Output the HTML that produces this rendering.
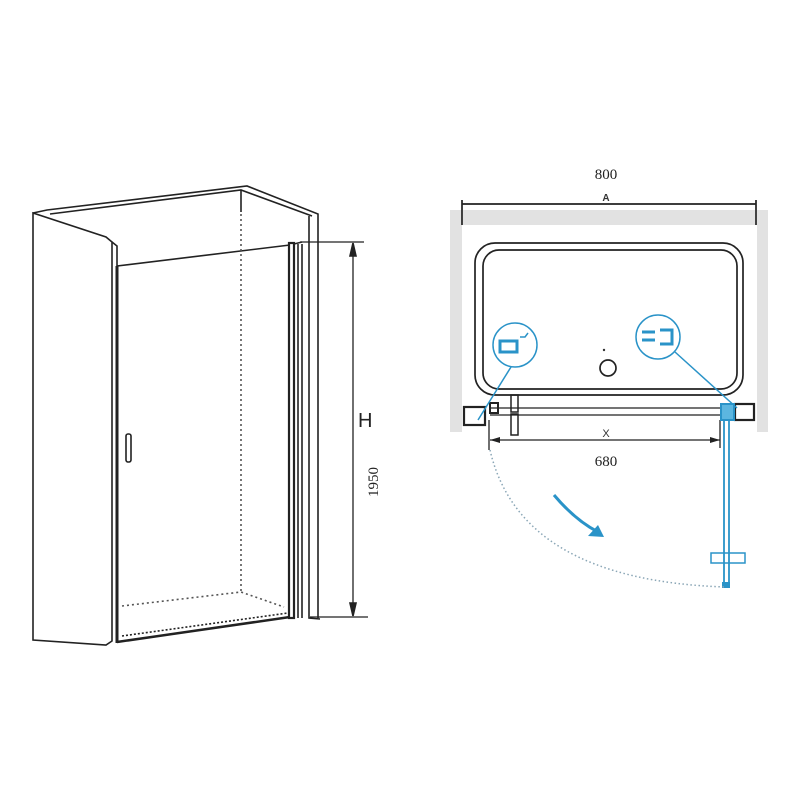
<!DOCTYPE html>
<html><head><style>html,body{margin:0;padding:0;background:#fff;}svg{display:block}</style></head>
<body>
<svg width="800" height="800" viewBox="0 0 800 800" xmlns="http://www.w3.org/2000/svg" font-family="Liberation Serif, serif">
<rect width="800" height="800" fill="#fff"/>
<g fill="none" stroke="#222" stroke-width="1.6">
  <!-- left wall -->
  <path d="M33,213 L33,640 L106,645 L112,641 L112,242 L106,237 Z"/>
  <path d="M112,242 L117,246 L117,266"/>
  <path d="M33,213 L47,210 L247,186 L318,214 L318,618"/>
  <path d="M50,214 L241,190 L312,216"/>
  <path d="M309,216 L309,618 L320,619"/>
  <path d="M241,190 L241,212"/>
  <!-- door -->
  <path d="M117,266 L290,245"/>
  <path d="M117,266 L117,643" stroke-width="3"/>
  <path d="M117,642 L290,617" stroke-width="2.5"/>
  <path d="M122,636 L288,613" stroke-dasharray="2,2"/>
  <rect x="289" y="243" width="5" height="375" stroke-width="2.2"/>
  <path d="M298,244 L298,618 M302,244 L302,618"/>
  <path d="M294,244 L302,242"/>
  <rect x="126" y="434" width="5" height="28" rx="2" stroke-width="1.6"/>
  <!-- dotted -->
  <path d="M241,214 L241,592" stroke-dasharray="2,3" stroke="#555"/>
  <path d="M122,606 L241,592 L284,607" stroke-dasharray="2,3" stroke="#555"/>
  <!-- dimension -->
  <path d="M300,242 L364,242 M310,617 L368,617 M353,248 L353,611" stroke-width="1.3"/>
  <path d="M353,243 L350,256 L356,256 Z M353,616 L350,603 L356,603 Z" fill="#222"/>
</g>
<text x="358" y="427" font-family="Liberation Sans, sans-serif" font-size="20" fill="#222">H</text>
<text transform="translate(378,497) rotate(-90)" font-size="15" fill="#222">1950</text>

<!-- right drawing -->
<rect x="463" y="210" width="292" height="15" fill="#e2e2e2"/>
<rect x="450" y="210" width="12" height="222" fill="#e2e2e2"/>
<rect x="757" y="210" width="11" height="222" fill="#e2e2e2"/>
<text x="606" y="179" font-size="15" text-anchor="middle" fill="#222">800</text>
<text x="606" y="201" font-family="Liberation Sans, sans-serif" font-size="10" font-weight="bold" text-anchor="middle" fill="#333">A</text>
<g fill="none" stroke="#222" stroke-width="1.7">
  <path d="M462,204 L756,204 M462,200 L462,225 M756,200 L756,225"/>
  <rect x="475" y="243" width="268" height="152" rx="20"/>
  <rect x="483" y="250" width="254" height="139" rx="16"/>
  <circle cx="608" cy="368" r="8"/>
  <path d="M490,408 L720,408 M490,415 L720,415" stroke-width="1.3"/>
  <rect x="464" y="407" width="21" height="18" stroke-width="2.2"/>
  <rect x="490" y="403" width="8" height="10" stroke-width="2"/>
  <rect x="511" y="395" width="7" height="17" stroke-width="1.5"/>
  <rect x="511" y="414" width="7" height="21" stroke-width="1.5"/>
  <rect x="735" y="404" width="19" height="16" stroke-width="2.2"/>
  <path d="M489,420 L489,450 M720,420 L720,448 M490,440 L720,440" stroke-width="1.3"/>
</g>
<path d="M490,440 L500,437 L500,443 Z M720,440 L710,437 L710,443 Z" fill="#222"/>
<circle cx="604" cy="350" r="1.2" fill="#333"/>
<text x="606" y="437" font-family="Liberation Sans, sans-serif" font-size="11" text-anchor="middle" fill="#333">X</text>
<text x="606" y="466" font-size="15" text-anchor="middle" fill="#222">680</text>
<!-- blue -->
<g fill="none" stroke="#2a93c8" stroke-width="1.5">
  <circle cx="515" cy="345" r="22"/>
  <circle cx="658" cy="337" r="22"/>
  <path d="M511,367 L478,420"/>
  <path d="M675,352 L737,408"/>
  <path d="M500,341 L517,341 L517,352 L500,352 Z" stroke-width="3"/>
  <path d="M520,337 L525,337 L528,333" stroke-width="1.5"/>
  <path d="M642,332 L655,332 M642,340 L655,340 M660,330 L672,330 L672,344 L660,344" stroke-width="3"/>
  <rect x="721" y="404" width="13" height="16" fill="#5cb6e0" stroke-width="2"/>
  <path d="M724,420 L724,585 M729,420 L729,585" stroke-width="1.8"/>
  <rect x="711" y="553" width="34" height="10"/>
  <path d="M554,495 Q575,520 598,532" stroke-width="3"/>
</g>
<path d="M604,537 L588,536 L598,525 Z" fill="#2a93c8"/>
<rect x="722" y="582" width="8" height="6" fill="#2a93c8"/>
<path d="M490,450 Q520,580 725,587" fill="none" stroke="#8aa6b6" stroke-width="1.5" stroke-dasharray="1.5,2.5"/>
</svg>
</body></html>
